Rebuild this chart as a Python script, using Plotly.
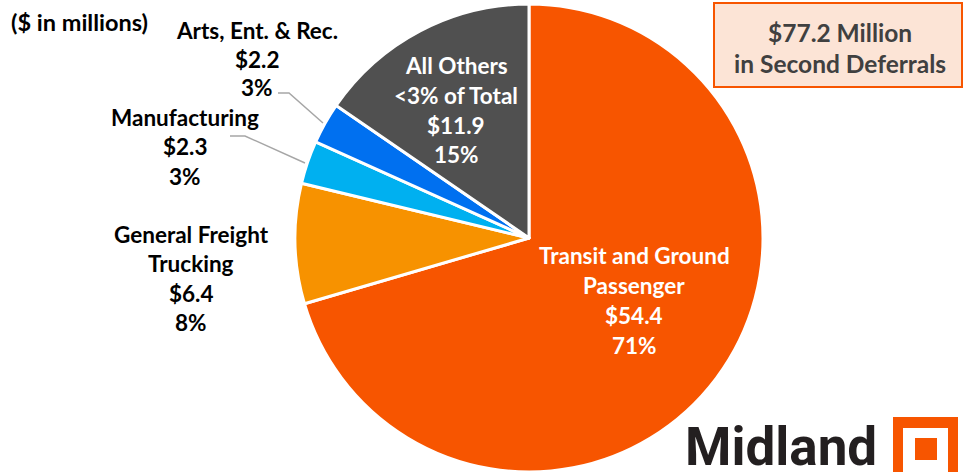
import plotly.graph_objects as go

# ---- data ----
categories = ["Transit and Ground Passenger", "General Freight Trucking", "Manufacturing",
              "Arts, Ent. & Rec.", "All Others <3% of Total"]
values = [54.4, 6.4, 2.3, 2.2, 11.9]
percent_labels = ["71%", "8%", "3%", "3%", "15%"]
label_lines = [["Transit and Ground", "Passenger"], ["General Freight", "Trucking"],
               ["Manufacturing"], ["Arts, Ent. & Rec."], ["All Others", "<3% of Total"]]
total_label = "$77.2 Million"
colors = ["#F75500", "#F79200", "#00B0F0", "#0070F0", "#505050"]

W, H = 965, 472
FONT = "Lato"


def px(x):
    return x / W


def py(y):
    return 1 - y / H


fig = go.Figure()
fig.add_trace(go.Pie(
    labels=categories, values=values, sort=False, direction="clockwise", rotation=0,
    marker=dict(colors=colors, line=dict(color="white", width=3)),
    textinfo="none", hoverinfo="label+value+percent", showlegend=False,
    domain=dict(x=[px(529 - 234), px(529 + 234)], y=[0, 468 / H]),
))

annotations = []
shapes = []

# label placement (center x, first line y, line spacing, color)
placements = [
    (634, 255, 30, "white"),
    (191, 234, 29.5, "black"),
    (185, 117, 29.5, "black"),
    (257, 30, 29, "black"),
    (456, 66, 29.5, "white"),
]
for i, (cx, y0, dy, col) in enumerate(placements):
    lines = label_lines[i] + ["$%.1f" % values[i], percent_labels[i]]
    for j, t in enumerate(lines):
        annotations.append(dict(x=px(cx), y=py(y0 + j * dy), xref="paper", yref="paper",
                                text="<b>%s</b>" % t, showarrow=False, xanchor="center",
                                yanchor="middle",
                                font=dict(family=FONT, size=22.5, color=col)))

annotations.append(dict(x=px(9), y=py(22), xref="paper", yref="paper",
                        text="<b>($ in millions)</b>", showarrow=False, xanchor="left",
                        yanchor="middle", font=dict(family=FONT, size=23.5, color="black")))

# summary box
shapes.append(dict(type="rect", xref="paper", yref="paper", x0=px(714), x1=px(962),
                   y0=py(87), y1=py(3), fillcolor="#FCE4D6",
                   line=dict(color="#F75500", width=2), layer="above"))
for t, yy in [(total_label, 32), ("in Second Deferrals", 64)]:
    annotations.append(dict(x=px(840), y=py(yy), xref="paper", yref="paper",
                            text="<b>%s</b>" % t, showarrow=False, xanchor="center",
                            yanchor="middle",
                            font=dict(family=FONT, size=24.5, color="#404040")))

# leader lines
for pts in [[(278, 93), (289, 93), (323, 123)], [(230, 136), (245, 136), (305, 163)]]:
    path = "M %f %f " % (px(pts[0][0]), py(pts[0][1])) + " ".join(
        "L %f %f" % (px(a), py(b)) for a, b in pts[1:])
    shapes.append(dict(type="path", xref="paper", yref="paper", path=path,
                       line=dict(color="#A6A6A6", width=1.5)))

# logo
annotations.append(dict(x=px(683), y=py(447), xref="paper", yref="paper",
                        text="Midland", showarrow=False, xanchor="left", yanchor="middle",
                        font=dict(family="Roboto", size=53, weight=700, color="#231F20")))
shapes.append(dict(type="rect", xref="paper", yref="paper", x0=px(893), x1=px(958),
                   y0=py(482), y1=py(417), fillcolor="#F75500", line=dict(width=0)))
shapes.append(dict(type="rect", xref="paper", yref="paper", x0=px(903), x1=px(948),
                   y0=py(473), y1=py(428), fillcolor="white", line=dict(width=0)))
shapes.append(dict(type="rect", xref="paper", yref="paper", x0=px(915), x1=px(937),
                   y0=py(460), y1=py(438), fillcolor="#F75500", line=dict(width=0)))

fig.update_layout(width=W, height=H, margin=dict(l=0, r=0, t=0, b=0),
                  paper_bgcolor="white", plot_bgcolor="white",
                  annotations=annotations, shapes=shapes)
fig.write_html("out.html", config=dict(displayModeBar=False),
               post_script="document.body.style.margin='0';")
